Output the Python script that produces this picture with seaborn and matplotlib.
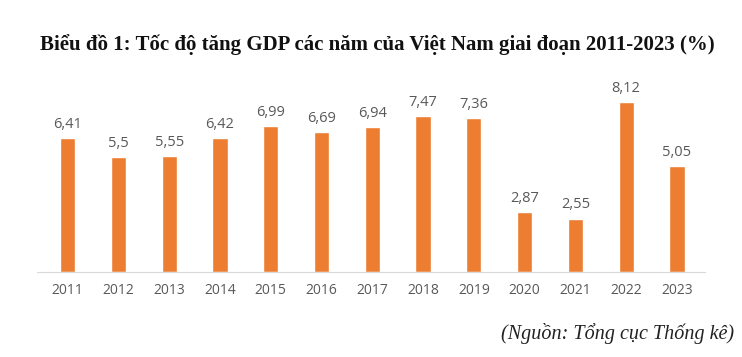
import numpy as np
import pandas as pd
import matplotlib
matplotlib.use("Agg")
import matplotlib.pyplot as plt
import seaborn as sns

years = ["2011", "2012", "2013", "2014", "2015", "2016", "2017",
         "2018", "2019", "2020", "2021", "2022", "2023"]
gdp = [6.41, 5.5, 5.55, 6.42, 6.99, 6.69, 6.94, 7.47, 7.36, 2.87, 2.55, 8.12, 5.05]
labels = ["6,41", "5,5", "5,55", "6,42", "6,99", "6,69", "6,94",
          "7,47", "7,36", "2,87", "2,55", "8,12", "5,05"]

df = pd.DataFrame({"nam": years, "gdp": gdp})

sns.set_style("white")
plt.rcParams['font.family'] = ['Open Sans', 'DejaVu Sans']

fig = plt.figure(figsize=(7.42, 3.57), dpi=100)
ax = fig.add_axes([0.05, 0.238, 0.9, 0.527])

sns.barplot(data=df, x="nam", y="gdp", color="#ED7D31", width=0.3,
            saturation=1, ax=ax)

for i, (v, t) in enumerate(zip(gdp, labels)):
    ax.text(i, v + 0.3, t, ha="center", va="bottom", fontsize=10.5, color="#595959")

ax.set_ylim(0, 9)
ax.set_xlim(-0.6, 12.55)
ax.set_xlabel("")
ax.set_ylabel("")
ax.set_yticks([])
for s in ["top", "right", "left"]:
    ax.spines[s].set_visible(False)
ax.spines["bottom"].set_color("#D9D9D9")
ax.tick_params(axis="x", length=0, labelsize=10, labelcolor="#595959", pad=8)

fig.text(0.508, 0.875, "Biểu đồ 1: Tốc độ tăng GDP các năm của Việt Nam giai đoạn 2011-2023 (%)",
         ha="center", va="center", fontsize=15, fontweight="bold",
         family=["Liberation Serif", "DejaVu Serif"], color="#111111")
fig.text(0.99, 0.065, "(Nguồn: Tổng cục Thống kê)", ha="right", va="center",
         fontsize=14.5, style="italic", family=["Liberation Serif", "DejaVu Serif"],
         color="#222222")

fig.savefig("out.png", dpi=100)
